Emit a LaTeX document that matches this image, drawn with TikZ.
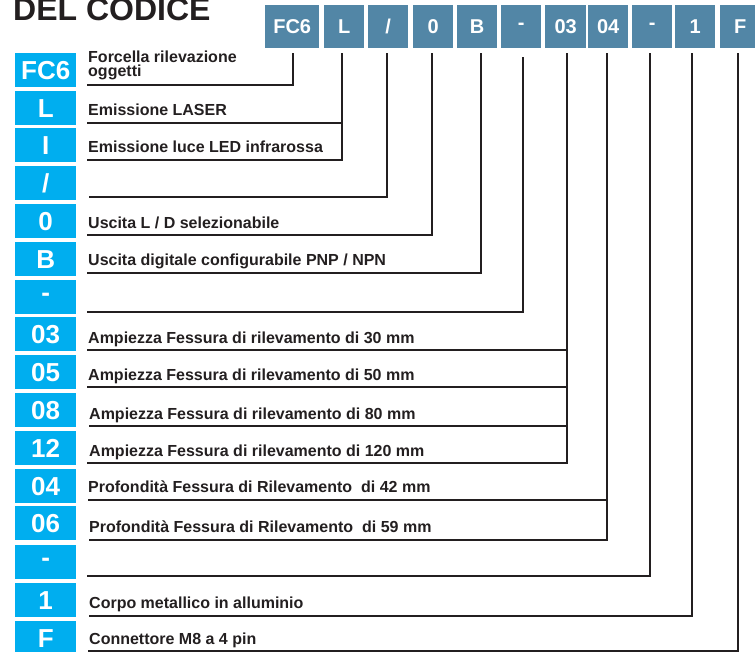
\documentclass[tikz,border=0pt]{standalone}
\usepackage{fontspec}
\setmainfont{Liberation Sans}
\definecolor{hdr}{HTML}{5286A6}
\definecolor{cyanbox}{HTML}{00AEEF}
\definecolor{ink}{HTML}{231F20}
\begin{document}
\begin{tikzpicture}[x=1pt,y=-1pt,
 hdrbox/.style={fill=hdr, text=white, font=\fontsize{20}{20}\selectfont\bfseries, inner sep=0pt, minimum height=43pt, anchor=north west},
 codebox/.style={fill=cyanbox, text=white, font=\fontsize{26}{26}\selectfont\bfseries, inner sep=0pt, minimum width=61pt, minimum height=34pt, anchor=north west},
 desc/.style={text=ink, font=\fontsize{16}{16}\selectfont\bfseries, inner sep=0pt, anchor=base west},
 conn/.style={draw=ink, line width=2pt, line join=miter, shorten <=5pt},
]
\useasboundingbox (0,0) rectangle (755,652);

% title
\node[anchor=base west, font=\fontsize{32}{32}\selectfont\bfseries, text=ink, inner sep=0pt] (title) at (13,21) {DEL CODICE};

% header code boxes
\node[hdrbox, minimum width=54pt] (hFC) at (265,5) {FC6};
\node[hdrbox, minimum width=40pt] (hL)  at (324,5) {L};
\node[hdrbox, minimum width=40pt] (hS)  at (368,5) {/};
\node[hdrbox, minimum width=40pt] (h0)  at (413,5) {0};
\node[hdrbox, minimum width=40pt] (hB)  at (457,5) {B};
\node[hdrbox, minimum width=40pt] (hDa) at (501,5) {-};
\node[hdrbox, minimum width=41pt] (h03) at (545,5) {03};
\node[hdrbox, minimum width=40pt] (h04) at (588,5) {04};
\node[hdrbox, minimum width=40pt] (hDb) at (632,5) {-};
\node[hdrbox, minimum width=40pt] (h1)  at (675,5) {1};
\node[hdrbox, minimum width=40pt] (hF)  at (720,5) {F};

% left code boxes
\node[codebox] (c0)  at (15,53)  {FC6};
\node[codebox] (c1)  at (15,91)  {L};
\node[codebox] (c2)  at (15,128) {I};
\node[codebox] (c3)  at (15,166) {/};
\node[codebox] (c4)  at (15,204) {0};
\node[codebox] (c5)  at (15,242) {B};
\node[codebox] (c6)  at (15,280) {-};
\node[codebox] (c7)  at (15,317) {03};
\node[codebox] (c8)  at (15,355) {05};
\node[codebox] (c9)  at (15,393) {08};
\node[codebox] (c10) at (15,431) {12};
\node[codebox] (c11) at (15,469) {04};
\node[codebox] (c12) at (15,506) {06};
\node[codebox] (c13) at (15,545) {-};
\node[codebox] (c14) at (15,583) {1};
\node[codebox] (c15) at (15,621) {F};

% descriptions
\node[desc] (t0a) at (88,63)  {Forcella rilevazione};
\node[desc] (t0b) at (88,77)  {oggetti};
\node[desc] (t1)  at (88,116) {Emissione LASER};
\node[desc] (t2)  at (88,153) {Emissione luce LED infrarossa};
\node[desc] (t4)  at (88,229) {Uscita L / D selezionabile};
\node[desc] (t5)  at (88,266) {Uscita digitale configurabile PNP / NPN};
\node[desc] (t7)  at (88,343) {Ampiezza Fessura di rilevamento di 30 mm};
\node[desc] (t8)  at (88,380) {Ampiezza Fessura di rilevamento di 50 mm};
\node[desc] (t9)  at (89,419) {Ampiezza Fessura di rilevamento di 80 mm};
\node[desc] (t10) at (89,456) {Ampiezza Fessura di rilevamento di 120 mm};
\node[desc] (t11) at (88,492) {Profondità Fessura di Rilevamento~~di 42 mm};
\node[desc] (t12) at (89,532) {Profondità Fessura di Rilevamento~~di 59 mm};
\node[desc] (t14) at (89,608) {Corpo metallico in alluminio};
\node[desc] (t15) at (89,644) {Connettore M8 a 4 pin};

% underline end points
\coordinate (u0)  at (87,85);
\coordinate (u1)  at (87,123);
\coordinate (u2)  at (87,160);
\coordinate (u3)  at (89,197);
\coordinate (u4)  at (87,235);
\coordinate (u5)  at (87,273);
\coordinate (u6)  at (87,312);
\coordinate (u7)  at (87,350);
\coordinate (u8)  at (87,387);
\coordinate (u9)  at (89,426);
\coordinate (u10) at (87,463);
\coordinate (u11) at (88,500);
\coordinate (u12) at (89,540);
\coordinate (u13) at (87,576);
\coordinate (u14) at (89,616);
\coordinate (u15) at (88,651);

% connectors
\draw[conn] ([xshift=1pt]hFC.south) |- (u0);
\draw[conn] ([xshift=-2pt]hL.south) |- (u1);
\draw[conn] ([xshift=-2pt]hL.south) |- (u2);
\draw[conn] ([xshift=-1pt]hS.south) |- (u3);
\draw[conn] ([xshift=-1pt]h0.south) |- (u4);
\draw[conn] ([xshift=4pt]hB.south) |- (u5);
\draw[conn, shorten <=9pt] ([xshift=2pt]hDa.south) |- (u6);
\draw[conn] ([xshift=1.5pt]h03.south) |- (u7);
\draw[conn] ([xshift=1.5pt]h03.south) |- (u8);
\draw[conn] ([xshift=1.5pt]h03.south) |- (u9);
\draw[conn] ([xshift=1.5pt]h03.south) |- (u10);
\draw[conn] ([xshift=-1pt]h04.south) |- (u11);
\draw[conn] ([xshift=-1pt]h04.south) |- (u12);
\draw[conn] ([xshift=-2pt]hDb.south) |- (u13);
\draw[conn] ([xshift=-3pt]h1.south) |- (u14);
\draw[conn] ([xshift=-2pt]hF.south) |- (u15);
\end{tikzpicture}
\end{document}
